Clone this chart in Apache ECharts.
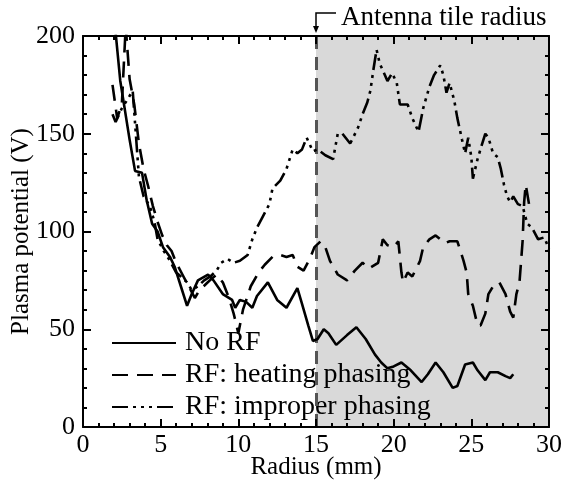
<!DOCTYPE html>
<html><head><meta charset="utf-8">
<script src="https://cdn.jsdelivr.net/npm/echarts@6/dist/echarts.min.js"></script>
<style>html,body{margin:0;padding:0;background:#fff}#c{width:566px;height:482px}</style>
</head><body><div id="c"></div>
<script>
const xTicks = [0, 5, 10, 15, 20, 25, 30];
const yTicks = [0, 50, 100, 150, 200];
const seriesNames = ['No RF', 'RF: heating phasing', 'RF: improper phasing'];
const antennaRadius = 15;
const annotationText = 'Antenna tile radius';

const noRF = [[2.0,210],[2.4,177],[3.0,147],[3.35,131],[3.8,130],[4.1,116],[4.45,104],[4.8,100],[5.15,92],[5.6,87],[5.9,82],[6.3,72],[6.7,62],[7.0,68],[7.4,75],[8.05,78],[8.4,75],[9.0,68],[9.6,65],[9.8,61],[10.1,65],[10.5,64],[10.9,61],[11.2,67],[11.9,74],[12.5,65],[13.1,61],[13.8,71],[14.1,63],[14.5,52],[14.8,44],[15.1,45],[15.5,50],[15.8,48],[16.3,42],[17.0,47],[17.6,51],[18.2,45],[18.8,37],[19.2,33],[19.6,30],[20.0,31],[20.5,33],[21.1,29],[21.8,23],[22.2,27],[22.7,33],[23.2,28],[23.8,20],[24.1,21],[24.6,32],[25.1,33],[25.4,29],[25.9,24],[26.2,28],[26.7,28],[27.2,26],[27.5,25],[27.7,27]];

const heating = [[1.9,175],[2.2,158],[2.5,165],[2.75,205],[3.0,178],[3.3,165],[3.6,145],[3.9,132],[4.2,123],[4.5,113],[4.8,105],[5.1,98],[5.4,93],[5.7,90],[6.0,84],[6.4,78],[6.8,72],[7.2,66],[7.5,70],[7.9,73],[8.3,76],[8.6,78],[9.0,74],[9.4,66],[9.7,58],[10.0,48],[10.3,60],[10.8,72],[11.3,79],[11.7,83],[12.2,87],[12.7,88],[13.1,87],[13.5,88],[13.8,82],[14.2,80],[14.6,86],[14.9,92],[15.3,95],[15.6,92],[15.9,85],[16.4,78],[17.0,75],[17.5,80],[18.0,84],[18.4,81],[18.6,82],[19.0,84],[19.3,96],[19.6,93],[20.0,92],[20.3,95],[20.5,79],[20.6,74],[20.9,79],[21.2,77],[21.7,85],[21.9,92],[22.3,96],[22.7,98],[23.3,94],[23.6,95],[24.1,95],[24.5,85],[24.7,79],[24.8,68],[25.1,62],[25.4,52],[25.6,52],[25.9,58],[26.1,68],[26.4,72],[26.6,73],[26.8,74],[27.2,68],[27.5,59],[27.7,56],[27.9,68],[28.1,74],[28.3,95],[28.4,115],[28.5,124],[28.8,110]];

const improper = [[1.9,160],[2.1,156],[2.5,163],[2.9,168],[3.2,172],[3.4,150],[3.6,128],[3.9,118],[4.3,113],[4.6,105],[4.8,96],[5.2,90],[5.6,85],[6.0,79],[6.3,77],[6.7,74],[7.0,70],[7.4,72],[7.8,75],[8.2,77],[8.6,80],[8.9,84],[9.3,86],[9.7,84],[10.1,85],[10.6,88],[10.9,96],[11.2,102],[11.6,108],[12.0,114],[12.2,122],[12.7,126],[13.1,132],[13.5,142],[13.8,140],[14.1,142],[14.4,148],[14.8,141],[15.1,142],[15.6,139],[16.1,137],[16.4,150],[16.7,150],[17.2,145],[17.7,153],[18.0,160],[18.3,166],[18.5,172],[18.7,183],[18.9,193],[19.1,186],[19.6,177],[19.9,181],[20.2,176],[20.4,165],[20.9,165],[21.2,158],[21.6,151],[21.9,163],[22.3,174],[22.6,180],[23.0,185],[23.2,180],[23.4,171],[23.6,176],[23.9,167],[24.1,158],[24.4,147],[24.6,140],[24.8,148],[25.0,138],[25.1,127],[25.4,137],[25.7,145],[25.9,150],[26.1,148],[26.4,140],[26.7,138],[26.9,132],[27.1,124],[27.3,118],[27.5,115],[27.7,118],[28.0,114],[28.3,113],[28.6,104],[28.9,102],[29.3,96],[29.7,97],[30,91]];

const FONT = 'Liberation Serif';
const chart = echarts.init(document.getElementById('c'), null, {renderer: 'canvas'});

function xAx(pos, show) {
  return {
    type: 'value', position: pos, min: xTicks[0], max: xTicks[xTicks.length-1], interval: 5, z: 10,
    name: show ? 'Radius (mm)' : '', nameLocation: 'middle', nameGap: 28, nameMoveOverlap: false,
    nameTextStyle: {fontFamily: FONT, fontSize: 25, color: '#000'},
    axisLine: {show: true, onZero: false, lineStyle: {color: '#000', width: 2}},
    axisTick: {show: true, inside: true, length: 8, lineStyle: {color: '#000', width: 2}},
    minorTick: {show: true, splitNumber: 5, length: 4, lineStyle: {color: '#000', width: 2}},
    axisLabel: {show: show, margin: 5, fontFamily: FONT, fontSize: 26, color: '#000'},
    splitLine: {show: false}
  };
}
function yAx(pos, show) {
  return {
    type: 'value', position: pos, min: yTicks[0], max: yTicks[yTicks.length-1], interval: 50, z: 10,
    name: show ? 'Plasma potential (V)' : '', nameLocation: 'middle', nameGap: 49, nameRotate: 90, nameMoveOverlap: false,
    nameTextStyle: {fontFamily: FONT, fontSize: 25, color: '#000'},
    axisLine: {show: true, onZero: false, lineStyle: {color: '#000', width: 2}},
    axisTick: {show: true, inside: true, length: 8, lineStyle: {color: '#000', width: 2}},
    minorTick: {show: true, splitNumber: 5, length: 4, lineStyle: {color: '#000', width: 2}},
    axisLabel: {show: show, margin: 8, fontFamily: FONT, fontSize: 26, color: '#000'},
    splitLine: {show: false}
  };
}

const lineBase = {type: 'line', symbol: 'none', showSymbol: false, smooth: false, z: 5, clip: true, animation: false};

chart.setOption({
  animation: false,
  grid: {left: 83, right: 17, top: 36, bottom: 55, containLabel: false, outerBoundsMode: 'none'},
  xAxis: [xAx('bottom', true), xAx('top', false)],
  yAxis: [yAx('left', true), yAx('right', false)],
  legend: {
    orient: 'vertical', left: 106, top: 324, itemWidth: 64, itemHeight: 14, itemGap: 4,
    itemStyle: {opacity: 0},
    textStyle: {fontFamily: FONT, fontSize: 28, color: '#000', padding: [0, 0, 0, 4]},
    data: seriesNames,
    selectedMode: false
  },
  series: [
    {type: 'line', name: '_bg', data: [], z: 1, silent: true,
      markArea: {silent: true, itemStyle: {color: '#d9d9d9'}, data: [[{xAxis: antennaRadius}, {xAxis: xTicks[xTicks.length-1]}]]},
      markLine: {silent: true, symbol: 'none', label: {show: false},
        lineStyle: {color: '#555', width: 3, type: [13, 8]}, data: [{xAxis: antennaRadius}]}
    },
    Object.assign({}, lineBase, {name: seriesNames[0], data: noRF, lineStyle: {color: '#000', width: 2.6, type: 'solid'}, itemStyle: {color: '#000'}}),
    Object.assign({}, lineBase, {name: seriesNames[1], data: heating, lineStyle: {color: '#000', width: 2.6, type: [16, 9]}, itemStyle: {color: '#000'}}),
    Object.assign({}, lineBase, {name: seriesNames[2], data: improper, lineStyle: {color: '#000', width: 2.6, type: [16, 5, 3, 5, 3, 5, 3, 5]}, itemStyle: {color: '#000'}})
  ]
});

const px = chart.convertToPixel({xAxisIndex: 0}, antennaRadius);
const topY = chart.convertToPixel({yAxisIndex: 0}, yTicks[yTicks.length-1]);
chart.setOption({
  graphic: [
    {type: 'polyline', shape: {points: [[px + 20, topY - 23], [px, topY - 23], [px, topY - 9]]}, style: {stroke: '#000', lineWidth: 1.5, fill: null}},
    {type: 'polygon', shape: {points: [[px - 3, topY - 10], [px + 3, topY - 10], [px, topY - 3]]}, style: {fill: '#000'}},
    {type: 'text', left: px + 25, top: topY - 32, style: {text: annotationText, font: '27px "Liberation Serif"', fill: '#000'}}
  ]
});
</script></body></html>
